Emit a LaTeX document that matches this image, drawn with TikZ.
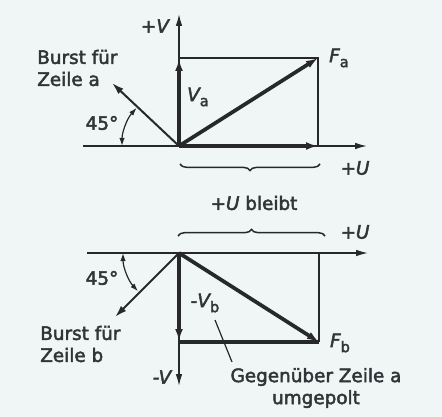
\documentclass[tikz,border=0pt]{standalone}
\usepackage{fontspec}
\setmainfont{DejaVu Sans}[FakeBold=2.5]
\usetikzlibrary{arrows.meta,decorations.pathreplacing}
\definecolor{bg}{RGB}{240,245,245}
\definecolor{ink}{RGB}{38,40,42}
\definecolor{txt}{RGB}{50,53,55}
\newcommand{\sbs}[1]{\raisebox{-0.5ex}{\upshape\fontsize{11}{11}\selectfont #1}}
\begin{document}
\begin{tikzpicture}[x=0.75pt,y=0.75pt,yscale=-1,
  lbl/.style={text=txt,font=\fontsize{13.8}{16.5}\selectfont,inner sep=0pt},
  axis/.style={draw=ink,line width=1.1pt,-{Latex[length=9pt,width=5pt]}},
  vec/.style={draw=ink,line width=2.8pt,-{Latex[length=9pt,width=6pt]}},
  burst/.style={draw=ink,line width=1.5pt,-{Latex[length=9pt,width=5.5pt]}},
  thin/.style={draw=ink,line width=0.9pt},
  anglearc/.style={draw=ink,line width=0.9pt,{Latex[length=6pt,width=4pt]}-{Latex[length=6pt,width=4pt]}},
  bracestyle/.style={draw=ink,line width=1.1pt,decorate,decoration={brace,amplitude=5pt}}]
\path[fill=bg,use as bounding box] (0,0) rectangle (442,417);

% ---------- top diagram ----------
\coordinate (O1) at (179,146);
\coordinate (Uleft) at (83,146);
\coordinate (Uright) at (367,146);
\coordinate (Vtop) at (179,14);
\coordinate (Va) at (179,59);
\coordinate (Ua) at (318,146);
\coordinate (Fa) at (318,58);
\coordinate (Ba) at (112,83);
\coordinate (TL) at (179,58);

\draw[thin] (TL) -- (Fa) -- (Ua);
\draw[axis] (Uleft) -- (Uright);
\draw[axis] (O1) -- (Vtop);
\draw[vec] (O1) -- (Va);
\draw[vec] (O1) -- (Ua);
\draw[vec] (O1) -- (Fa);
\draw[burst] (O1) -- (Ba);
\draw[anglearc] ([shift={(180:57)}]O1) arc[start angle=180,end angle=222,radius=42.75pt];

\draw[bracestyle] (320,164) -- (180,164);

\node[lbl] (pV) at (155,26) {\itshape +V};
\node[lbl,align=left,anchor=west] (bursta) at (37,68) {Burst für\\Zeile a};
\node[lbl] (a45) at (102,123) {45°};
\node[lbl] (lVa) at (198,97) {\itshape V\sbs{a}};
\node[lbl] (lFa) at (339,58) {\itshape F\sbs{a}};
\node[lbl] (pU1) at (355,168) {\itshape +U};
\node[lbl] (bleibt) at (254,203) {{\itshape +U} bleibt};

% ---------- bottom diagram ----------
\coordinate (O2) at (179,253);
\coordinate (Wleft) at (87,253);
\coordinate (Wright) at (368,253);
\coordinate (Vbot) at (179,386);
\coordinate (Vb) at (179,341);
\coordinate (Fb) at (319,342);
\coordinate (BR) at (319,253);
\coordinate (BL) at (179,342);
\coordinate (Bb) at (115,317);

\draw[thin] (BR) -- (Fb);
\draw[draw=ink,line width=2.8pt] (BL) -- (Fb);
\draw[axis] (Wleft) -- (Wright);
\draw[axis] (O2) -- (Vbot);
\draw[vec] (O2) -- (Vb);
\draw[vec] (O2) -- (Fb);
\draw[burst] (O2) -- (Bb);
\draw[anglearc] ([shift={(180:56)}]O2) arc[start angle=180,end angle=137,radius=42pt];

\draw[bracestyle] (178,236) -- (325,236);

\node[lbl] (pU2) at (355,232) {\itshape +U};
\node[lbl] (b45) at (102,278) {45°};
\node[lbl,align=left,anchor=west] (burstb) at (40,344) {Burst für\\Zeile b};
\node[lbl] (mV) at (162,377) {\itshape -V};
\node[lbl] (lVb) at (205,303) {-{\itshape V}\sbs{b}};
\node[lbl] (lFb) at (340,343) {\itshape F\sbs{b}};
\node[lbl,align=center] (gg) at (316,388) {Gegenüber Zeile a\\umgepolt};

\coordinate (leadA) at (215,320);
\coordinate (leadB) at (232,362);
\draw[thin] (leadA) -- (leadB);
\end{tikzpicture}
\end{document}
